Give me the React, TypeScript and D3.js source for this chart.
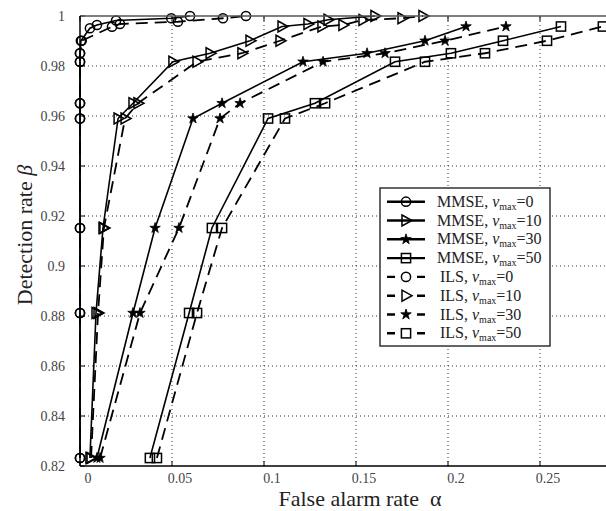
import React from "react";
import * as d3 from "d3";

// axis ticks
const xTicks = [0, 0.05, 0.1, 0.15, 0.2, 0.25, 0.3];
const xTickLabels = ["0", "0.05", "0.1", "0.15", "0.2", "0.25"];
const yTicks = [0.82, 0.84, 0.86, 0.88, 0.9, 0.92, 0.94, 0.96, 0.98, 1];
const yTickLabels = ["0.82", "0.84", "0.86", "0.88", "0.9", "0.92", "0.94", "0.96", "0.98", "1"];

// [false alarm rate, detection rate]
const mmseV0: [number, number][] = [
  [0, 0.8232], [0, 0.8812], [0, 0.9152], [0, 0.959], [0, 0.9651], [0, 0.9817], [0, 0.9851],
  [0.0005, 0.9901], [0.0054, 0.9951], [0.0092, 0.9964], [0.0196, 0.9982], [0.0496, 0.9991], [0.0598, 1.0],
];
const mmseV10: [number, number][] = [
  [0.0054, 0.8232], [0.0087, 0.8812], [0.0125, 0.9152], [0.0207, 0.959], [0.0288, 0.9651], [0.0505, 0.9817],
  [0.0707, 0.9851], [0.0924, 0.9901], [0.1098, 0.9958], [0.1239, 0.9968], [0.1348, 0.9985], [0.1603, 1.0],
];
const mmseV30: [number, number][] = [
  [0.0092, 0.8232], [0.0288, 0.8812], [0.0408, 0.9152], [0.0614, 0.959], [0.0772, 0.9651], [0.1212, 0.9817],
  [0.156, 0.9851], [0.1875, 0.9901], [0.2098, 0.9958],
];
const mmseV50: [number, number][] = [
  [0.038, 0.8232], [0.0593, 0.8812], [0.0717, 0.9152], [0.1022, 0.959], [0.1277, 0.9651], [0.1712, 0.9817],
  [0.2016, 0.9851], [0.2299, 0.9901], [0.2614, 0.9958],
];
const ilsV0: [number, number][] = [
  [0, 0.8232], [0, 0.8812], [0, 0.9152], [0, 0.959], [0, 0.9651], [0, 0.9817], [0, 0.9851],
  [0.0009, 0.9901], [0.0174, 0.9957], [0.0217, 0.9968], [0.0532, 0.9977], [0.0777, 0.9991], [0.0902, 1.0],
];
const ilsV10: [number, number][] = [
  [0.006, 0.8232], [0.0098, 0.8812], [0.013, 0.9152], [0.0245, 0.959], [0.0315, 0.9651], [0.0636, 0.9817],
  [0.088, 0.9851], [0.1087, 0.9901], [0.1315, 0.9958], [0.1429, 0.9964], [0.1538, 0.9984], [0.175, 0.9991],
  [0.1864, 1.0],
];
const ilsV30: [number, number][] = [
  [0.0109, 0.8232], [0.0326, 0.8812], [0.0538, 0.9152], [0.0761, 0.959], [0.087, 0.9651], [0.1321, 0.9817],
  [0.1658, 0.9851], [0.1984, 0.9901], [0.2315, 0.9958],
];
const ilsV50: [number, number][] = [
  [0.0418, 0.8232], [0.0636, 0.8812], [0.0772, 0.9152], [0.1114, 0.959], [0.1332, 0.9651], [0.1875, 0.9817],
  [0.2201, 0.9851], [0.2538, 0.9901], [0.2842, 0.9958],
];

const series = [
  { method: "MMSE", v: "0", data: mmseV0, marker: "circle", dashed: false },
  { method: "MMSE", v: "10", data: mmseV10, marker: "triangle", dashed: false },
  { method: "MMSE", v: "30", data: mmseV30, marker: "star", dashed: false },
  { method: "MMSE", v: "50", data: mmseV50, marker: "square", dashed: false },
  { method: "ILS", v: "0", data: ilsV0, marker: "circle", dashed: true },
  { method: "ILS", v: "10", data: ilsV10, marker: "triangle", dashed: true },
  { method: "ILS", v: "30", data: ilsV30, marker: "star", dashed: true },
  { method: "ILS", v: "50", data: ilsV50, marker: "square", dashed: true },
];

const font = "'Liberation Serif', 'Times New Roman', serif";
const starPath = d3.symbol(d3.symbolStar, 34)() as string;

function Marker({ type, x, y }: { type: string; x: number; y: number }) {
  const common = { stroke: "#000", strokeWidth: 1.5, fill: "none" };
  if (type === "circle") return <circle cx={x} cy={y} r={4.6} {...common} />;
  if (type === "square") return <rect x={x - 4.6} y={y - 4.6} width={9.2} height={9.2} {...common} />;
  if (type === "triangle")
    return <path transform={`translate(${x},${y})`} d="M-4,-5.5L6,0L-4,5.5Z" {...common} />;
  return <path transform={`translate(${x},${y})`} d={starPath} fill="#000" stroke="#000" strokeWidth={0.8} />;
}

export default function App() {
  const width = 606;
  const height = 511;
  const x = d3.scaleLinear().domain([0, 0.3]).range([80, 632]);
  const y = d3.scaleLinear().domain([0.82, 1]).range([466, 16]);
  const line = d3
    .line<[number, number]>()
    .x((d) => x(d[0]))
    .y((d) => y(d[1]));

  const left = x(0);
  const bottom = y(0.82);
  const top = y(1);

  // legend layout
  const lgX = 380;
  const lgY = 188;
  const lgW = 170;
  const lgH = 158;
  const rowH = 18.8;

  return (
    <svg
      width={width}
      height={height}
      style={{ position: "absolute", left: 0, top: 0, background: "#fff" }}
      fontFamily={font}
    >
      <rect width={width} height={height} fill="#fff" />

      {/* grid */}
      {xTicks.slice(1).map((t) => (
        <line key={"gx" + t} x1={x(t)} x2={x(t)} y1={bottom} y2={top} stroke="#333" strokeWidth={1} strokeDasharray="1,3" />
      ))}
      {yTicks.slice(1, -1).map((t) => (
        <line key={"gy" + t} x1={left} x2={x(0.3)} y1={y(t)} y2={y(t)} stroke="#333" strokeWidth={1} strokeDasharray="1,3" />
      ))}

      {/* ticks */}
      {xTicks.map((t) => (
        <g key={"tx" + t}>
          <line x1={x(t)} x2={x(t)} y1={bottom} y2={bottom - 5} stroke="#000" strokeWidth={1} />
          <line x1={x(t)} x2={x(t)} y1={top} y2={top + 5} stroke="#000" strokeWidth={1} />
        </g>
      ))}
      {yTicks.map((t) => (
        <line key={"ty" + t} x1={left} x2={left + 5} y1={y(t)} y2={y(t)} stroke="#000" strokeWidth={1} />
      ))}

      {/* tick labels */}
      {xTickLabels.map((lab, i) => (
        <text key={"lx" + i} x={x(xTicks[i]) + 8} y={483} textAnchor="middle" fontSize={14} fill="#444">
          {lab}
        </text>
      ))}
      {yTicks.map((t, i) => (
        <text key={"ly" + t} x={65} y={y(t) + 5} textAnchor="end" fontSize={14} fill="#444">
          {yTickLabels[i]}
        </text>
      ))}

      {/* series lines */}
      {series.map((s, i) => (
        <path
          key={"l" + i}
          d={line(s.data) as string}
          fill="none"
          stroke="#000"
          strokeWidth={s.dashed ? 1.8 : 1.6}
          strokeDasharray={s.dashed ? "12,7" : undefined}
        />
      ))}
      {/* markers */}
      {series.map((s, i) => (
        <g key={"m" + i}>
          {s.data.map((d, j) => (
            <Marker key={j} type={s.marker} x={x(d[0])} y={y(d[1])} />
          ))}
        </g>
      ))}

      {/* axes frame */}
      <line x1={left} x2={width} y1={top} y2={top} stroke="#555" strokeWidth={1.5} />
      <line x1={left} x2={left} y1={top} y2={bottom} stroke="#000" strokeWidth={1.5} />
      <line x1={left} x2={width} y1={bottom} y2={bottom} stroke="#000" strokeWidth={1.5} />

      {/* axis titles */}
      <text x={360} y={506} textAnchor="middle" fontSize={22} fill="#222">
        False alarm rate {"\u00a0"}α
      </text>
      <text transform={`translate(32,235) rotate(-90)`} textAnchor="middle" fontSize={22} fill="#222">
        Detection rate <tspan fontStyle="italic">β</tspan>
      </text>

      {/* legend */}
      <rect x={lgX} y={lgY} width={lgW} height={lgH} fill="#fff" stroke="#333" strokeWidth={1.5} />
      {series.map((s, i) => {
        const cy = lgY + 13.7 + i * rowH;
        return (
          <g key={"lg" + i}>
            <line
              x1={387}
              x2={425}
              y1={cy}
              y2={cy}
              stroke="#000"
              strokeWidth={2.4}
              strokeDasharray={s.dashed ? "8,22" : undefined}
            />
            <Marker type={s.marker} x={406} y={cy} />
            <text x={s.dashed ? 440 : 437} y={cy + 5} fontSize={16} fill="#222">
              {s.method}, <tspan fontStyle="italic">v</tspan>
              <tspan fontSize={10} dy={3}>max</tspan>
              <tspan dy={-3}>={s.v}</tspan>
            </text>
          </g>
        );
      })}
    </svg>
  );
}
